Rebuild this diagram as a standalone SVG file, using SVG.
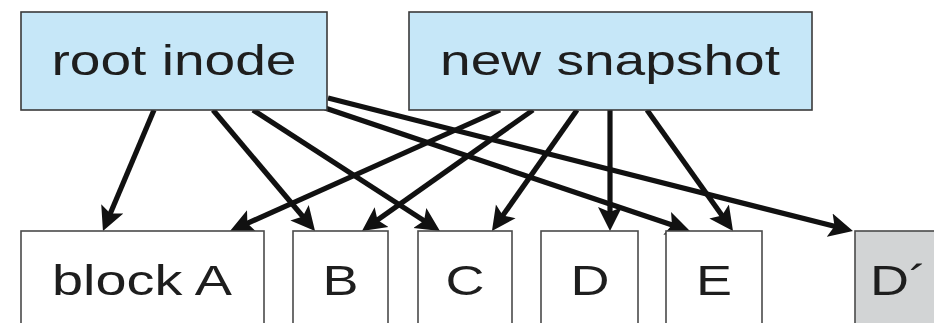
<svg xmlns="http://www.w3.org/2000/svg" width="934" height="323" viewBox="0 0 934 323">
<style>
.top{fill:#c6e7f8;stroke:#3a3a3a;stroke-width:1.6}
.blk{fill:#ffffff;stroke:#4a4a4a;stroke-width:1.6}
.new{fill:#d2d4d5;stroke:#4a4a4a;stroke-width:1.6}
text{font-family:"Liberation Sans",Arial,sans-serif;font-size:43px;fill:#1e1e1e;text-anchor:middle}
.c line{stroke:#111;stroke-width:5.2;fill:none;marker-end:url(#ah)}
</style>
<defs>
<marker id="ah" markerUnits="userSpaceOnUse" markerWidth="26" markerHeight="26" refX="10" refY="13" orient="auto">
<path d="M24,13 L0,1 L5,13 L0,25 Z" fill="#111"/>
</marker>
</defs>
<rect width="934" height="323" fill="#ffffff"/>
<g class="c" id="connectors">
<line x1="154" y1="110" x2="108.4" y2="218.1"/>
<line x1="213" y1="110" x2="306" y2="220.3"/>
<line x1="253" y1="110" x2="428.2" y2="223.4"/>
<line x1="325" y1="108" x2="676.7" y2="226.5"/>
<line x1="328" y1="98" x2="839.4" y2="227.6"/>
<line x1="500" y1="110" x2="242.8" y2="225.3"/>
<line x1="533" y1="110" x2="373.4" y2="222.9"/>
<line x1="577" y1="110" x2="500" y2="219.5"/>
<line x1="610" y1="110" x2="610" y2="217"/>
<line x1="647" y1="110" x2="724.9" y2="219.6"/>
</g>
<g id="root-inode"><rect class="top" x="21" y="12" width="306" height="98"/><text x="174" y="75" textLength="245" lengthAdjust="spacingAndGlyphs">root inode</text></g>
<g id="new-snapshot"><rect class="top" x="409" y="12" width="403" height="98"/><text x="610" y="75" textLength="340" lengthAdjust="spacingAndGlyphs">new snapshot</text></g>
<g id="block-A"><rect class="blk" x="21" y="231" width="243" height="110"/><text x="142" y="295" textLength="180" lengthAdjust="spacingAndGlyphs">block A</text></g>
<g id="block-B"><rect class="blk" x="293" y="231" width="95" height="110"/><text x="340.5" y="295" textLength="36" lengthAdjust="spacingAndGlyphs">B</text></g>
<g id="block-C"><rect class="blk" x="418" y="231" width="94" height="110"/><text x="465" y="295" textLength="39" lengthAdjust="spacingAndGlyphs">C</text></g>
<g id="block-D"><rect class="blk" x="541" y="231" width="97" height="110"/><text x="590" y="295" textLength="39" lengthAdjust="spacingAndGlyphs">D</text></g>
<g id="block-E"><rect class="blk" x="666" y="231" width="96" height="110"/><text x="714" y="295" textLength="36" lengthAdjust="spacingAndGlyphs">E</text></g>
<g id="block-D-prime"><rect class="new" x="855" y="231" width="100" height="110"/><text x="898.5" y="295" textLength="57" lengthAdjust="spacingAndGlyphs">D´</text></g>
</svg>
